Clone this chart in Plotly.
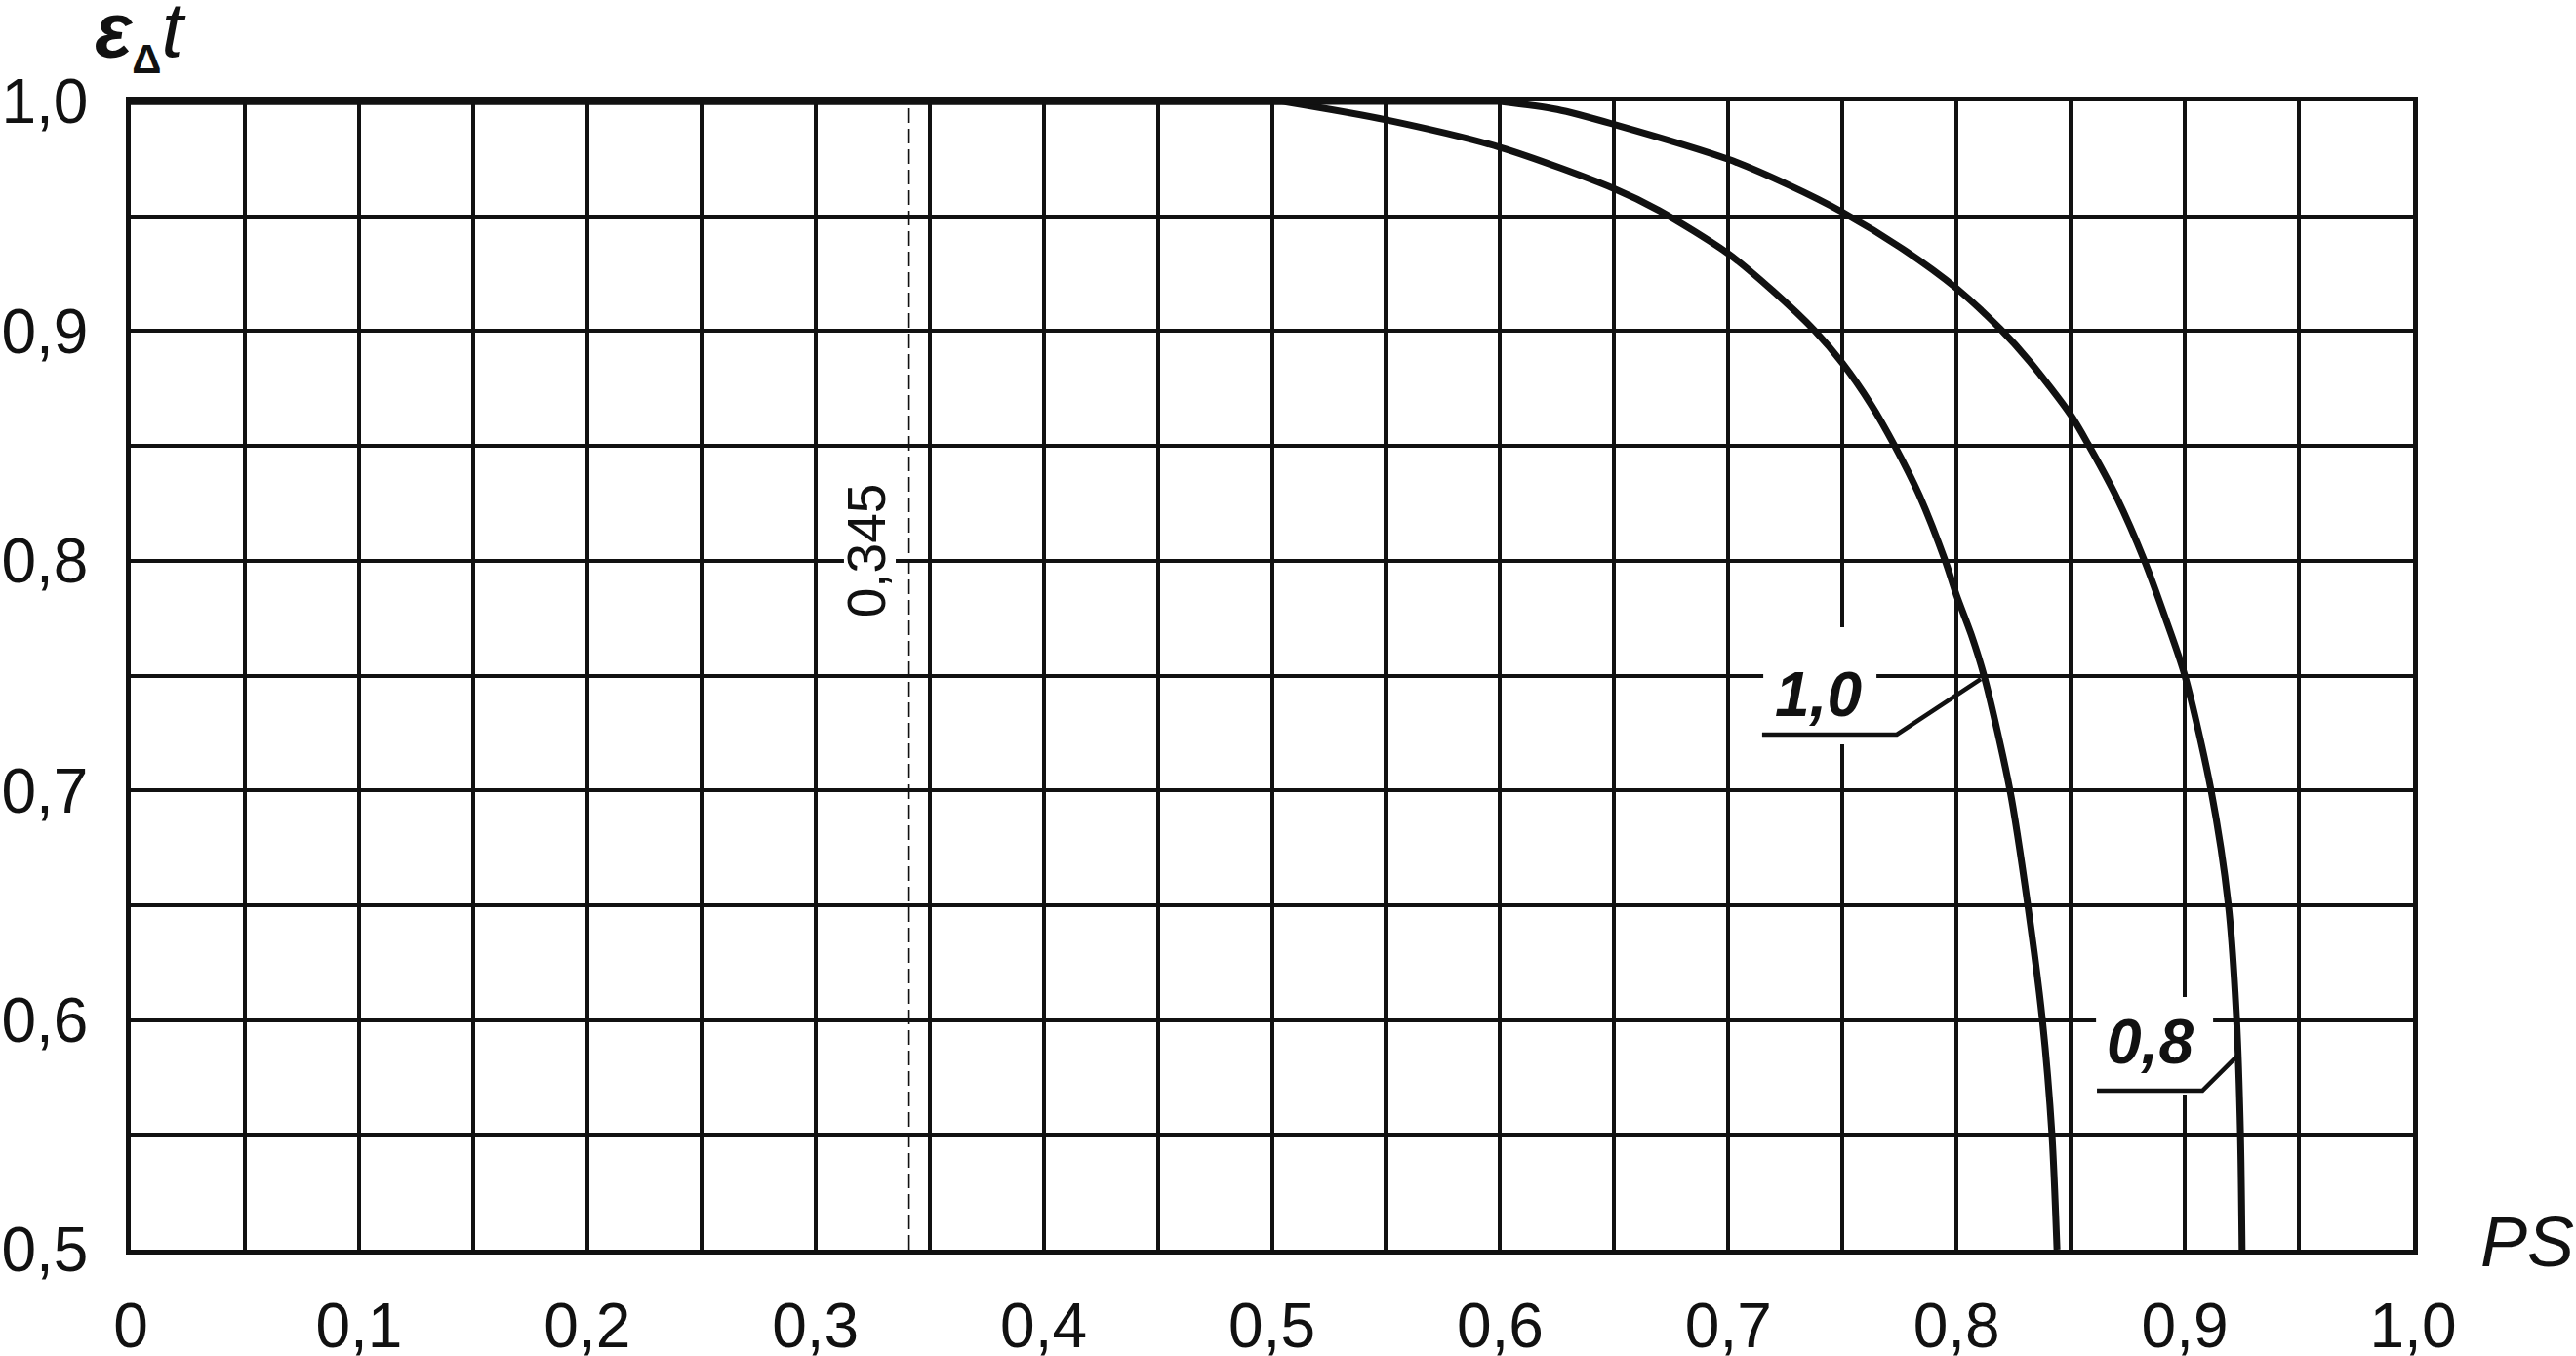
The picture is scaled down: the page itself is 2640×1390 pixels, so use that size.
import plotly.graph_objects as go

# ---- data ----
ps_10 = [0.0, 0.505, 0.55, 0.60, 0.65, 0.6697, 0.70, 0.7195, 0.738, 0.75, 0.7623, 0.7729, 0.7836,
         0.795, 0.80, 0.8064, 0.812, 0.8234, 0.8312, 0.8376, 0.8418, 0.844]
eps_10 = [1.0, 1.0, 0.992, 0.980, 0.962, 0.9525, 0.9337, 0.9175, 0.90, 0.886, 0.8684, 0.85, 0.8287,
          0.80, 0.7849, 0.7679, 0.75, 0.70, 0.65, 0.60, 0.55, 0.50]

ps_08 = [0.0, 0.60, 0.625, 0.65, 0.70, 0.7266, 0.75, 0.7765, 0.80, 0.8192, 0.832, 0.85, 0.8575,
         0.8703, 0.8823, 0.8915, 0.90, 0.9115, 0.9191, 0.9227, 0.9244, 0.9251]
eps_08 = [1.0, 1.0, 0.9965, 0.990, 0.9748, 0.9635, 0.9518, 0.9357, 0.9186, 0.9009, 0.8868, 0.8635, 0.851,
          0.8273, 0.80, 0.775, 0.75, 0.70, 0.65, 0.60, 0.55, 0.50]

marker_ps = 0.341
marker_label = "0,345"
marker_eps = [0.5, 1.0]

leader_10_x = [0.7148, 0.7738, 0.8106]
leader_10_y = [0.7243, 0.7243, 0.7485]
leader_08_x = [0.8615, 0.9077, 0.9231]
leader_08_y = [0.5692, 0.5692, 0.5845]

x_tickvals = [0, 0.1, 0.2, 0.3, 0.4, 0.5, 0.6, 0.7, 0.8, 0.9, 1.0]
x_ticktext = ["0", "0,1", "0,2", "0,3", "0,4", "0,5", "0,6", "0,7", "0,8", "0,9", "1,0"]
y_tickvals = [0.5, 0.6, 0.7, 0.8, 0.9, 1.0]
y_ticktext = ["0,5", "0,6", "0,7", "0,8", "0,9", "1,0"]

FONT = "Liberation Sans, Arial, sans-serif"
INK = "#111111"

fig = go.Figure()

# white knock-out boxes behind labels (above grid, below traces)
for (x0, x1, y0, y1) in [(0.7153, 0.7649, 0.7200, 0.7710),
                         (0.8611, 0.9124, 0.5675, 0.6100),
                         (0.3125, 0.3352, 0.7752, 0.8360)]:
    fig.add_shape(type="rect", xref="x", yref="y", x0=x0, x1=x1, y0=y0, y1=y1,
                  fillcolor="white", line=dict(width=0), layer="between")

fig.add_trace(go.Scatter(x=[marker_ps, marker_ps], y=marker_eps, mode="lines",
                         line=dict(color=INK, width=1.6, dash="15px,6px"),
                         hoverinfo="skip", showlegend=False))

for xs, ys in [(ps_10, eps_10), (ps_08, eps_08)]:
    # flat part along the top edge
    fig.add_trace(go.Scatter(x=xs[:2], y=ys[:2], mode="lines",
                             line=dict(color=INK, width=7),
                             showlegend=False))
    # curved part
    fig.add_trace(go.Scatter(x=xs[1:], y=ys[1:], mode="lines",
                             line=dict(color=INK, width=7, shape="spline", smoothing=0.8),
                             showlegend=False))

for xs, ys in [(leader_10_x, leader_10_y), (leader_08_x, leader_08_y)]:
    fig.add_trace(go.Scatter(x=xs, y=ys, mode="lines",
                             line=dict(color=INK, width=4.5),
                             hoverinfo="skip", showlegend=False))

# curve labels
fig.add_annotation(x=0.7394, y=0.7419, xref="x", yref="y", text="<b><i>1,0</i></b>",
                   showarrow=False, font=dict(family=FONT, size=64, color=INK))
fig.add_annotation(x=0.8848, y=0.5905, xref="x", yref="y", text="<b><i>0,8</i></b>",
                   showarrow=False, font=dict(family=FONT, size=64, color=INK))
# marker label
fig.add_annotation(x=0.3224, y=0.8045, xref="x", yref="y", text=marker_label,
                   textangle=-90, showarrow=False,
                   font=dict(family=FONT, size=55, color=INK))

# axis titles
fig.add_annotation(x=-0.0167, y=1.0586, xref="paper", yref="paper",
                   xanchor="left", yanchor="middle", showarrow=False,
                   text="<b><i>ε</i></b><sub><b><span style='font-size:42px'>Δ</span></b></sub><i>t</i>",
                   font=dict(family=FONT, size=80, color=INK))
fig.add_annotation(x=1.050, y=0.0068, xref="paper", yref="paper",
                   xanchor="center", yanchor="middle", showarrow=False,
                   text="<i>PS</i>", font=dict(family=FONT, size=72, color=INK))

fig.update_xaxes(range=[0, 1], showgrid=True, gridcolor=INK, gridwidth=3.5,
                 showline=True, mirror=True, linecolor=INK, linewidth=4.5, zeroline=False,
                 tickmode="array", tickvals=x_tickvals, ticktext=x_ticktext,
                 ticks="", ticklabelstandoff=18,
                 tickfont=dict(family=FONT, size=64, color=INK),
                 minor=dict(dtick=0.05, tick0=0, showgrid=True, gridcolor=INK, gridwidth=3.5))
fig.update_yaxes(range=[0.5, 1.0], showgrid=True, gridcolor=INK, gridwidth=3.5,
                 showline=True, mirror=True, linecolor=INK, linewidth=4.5, zeroline=False,
                 tickmode="array", tickvals=y_tickvals, ticktext=y_ticktext,
                 ticks="", ticklabelstandoff=26,
                 tickfont=dict(family=FONT, size=64, color=INK),
                 minor=dict(dtick=0.05, tick0=0.5, showgrid=True, gridcolor=INK, gridwidth=3.5))

fig.update_layout(width=2640, height=1390,
                  margin=dict(l=134, r=167, t=104, b=109, autoexpand=False),
                  paper_bgcolor="white", plot_bgcolor="white")

fig.write_html("out.html", config={"displayModeBar": False},
               post_script="document.body.style.margin='0px';document.body.style.padding='0px';document.body.style.overflow='hidden';")
